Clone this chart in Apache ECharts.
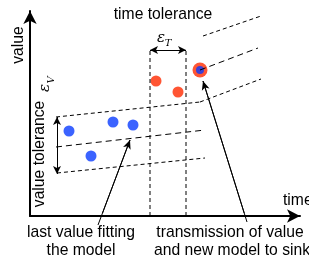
<!DOCTYPE html>
<html>
<head>
<meta charset="utf-8">
<script src="https://cdn.jsdelivr.net/npm/echarts@6/dist/echarts.min.js"></script>
<style>
html, body { margin: 0; padding: 0; background: #fff; }
#chart { width: 309px; height: 265px; }
</style>
</head>
<body>
<div id="chart"></div>
<script>
// samples that fit the old model
const blueTimes = [3.9, 6.1, 8.3, 10.3]
const blueValues = [8.5, 6.0, 9.4, 9.1]
// samples outside the value tolerance
const redTimes = [12.6, 14.8]
const redValues = [13.5, 12.4]
// sample sent to the sink
const sentTimes = [17.0]
const sentValues = [14.6]

// model lines, [time, value]
const oldModel = [[2.6, 6.9], [17.5, 8.6]]
const oldUpper = [[2.6, 9.9], [17.0, 11.4]]
const oldLower = [[2.7, 4.3], [17.5, 5.8]]
const newModel = [[17.0, 14.6], [22.8, 16.8]]
const newUpper = [[17.3, 18.0], [23.1, 20.0]]
const newLower = [[17.0, 11.4], [23.1, 13.7]]

// tolerance markers
const timeTolerance = [12.0, 15.6]
const timeTolTop = 16.6
const valueTolTime = 2.7
const valueTolerance = [9.9, 4.2]

// pointer arrows, [from, to]
const lastFitArrow = [[6.8, -0.9], [10.0, 7.6]]
const sentArrow = [[21.7, -0.6], [17.3, 13.5]]

const FONT = 'Liberation Sans'
const FS = 15.7
const blue = '#0a3cff'
const red = '#ff2a00'

const zip = (xs, ys) => xs.map((x, i) => [x, ys[i]])

// point on a pointer where it crosses value v (markLine drops points below the axis)
const cross = (arr, v) => {
    const [a, b] = arr
    const k = (v - a[1]) / (b[1] - a[1])
    return [a[0] + k * (b[0] - a[0]), v]
}

const dashed = (data, dash) => ({
    type: 'line',
    data: data,
    symbol: 'none',
    clip: false,
    silent: true,
    lineStyle: { color: '#000', width: 1, type: dash }
})

const shaft = (arr) => ({
    type: 'line',
    data: arr,
    symbol: 'none',
    clip: false,
    silent: true,
    lineStyle: { color: '#000', width: 1 }
})

const chart = echarts.init(document.getElementById('chart'))

const option = {
    animation: false,
    grid: { left: 30, right: 9, top: 11, bottom: 49 },
    xAxis: {
        type: 'value', min: 0, max: 27,
        axisLine: {
            lineStyle: { color: '#000', width: 2 },
            symbol: ['none', 'arrow'], symbolSize: [10, 13]
        },
        axisTick: { show: false }, axisLabel: { show: false }, splitLine: { show: false }
    },
    yAxis: {
        type: 'value', min: 0, max: 20.5,
        axisLine: {
            show: true,
            lineStyle: { color: '#000', width: 2 },
            symbol: ['none', 'arrow'], symbolSize: [10, 13]
        },
        axisTick: { show: false }, axisLabel: { show: false }, splitLine: { show: false }
    },
    series: [
        dashed(oldUpper, [4, 3]),
        dashed(oldModel, [6, 4]),
        dashed(oldLower, [4, 3]),
        dashed(newUpper, [4, 3]),
        dashed(newModel, [6, 4]),
        dashed(newLower, [4, 3]),
        dashed([[timeTolerance[0], 0], [timeTolerance[0], timeTolTop]], [4, 3]),
        dashed([[timeTolerance[1], 0], [timeTolerance[1], timeTolTop]], [4, 3]),
        shaft(lastFitArrow),
        shaft(sentArrow),
        {
            type: 'scatter', data: zip(blueTimes, blueValues),
            symbolSize: 11, itemStyle: { color: blue }, silent: true
        },
        {
            type: 'scatter', data: zip(redTimes, redValues),
            symbolSize: 11, itemStyle: { color: red }, silent: true
        },
        {
            type: 'scatter', data: zip(sentTimes, sentValues),
            symbolSize: 15, itemStyle: { color: red }, silent: true
        },
        {
            type: 'scatter', data: zip(sentTimes, sentValues),
            symbolSize: 8, itemStyle: { color: blue }, silent: true
        },
        // pointer arrow heads
        {
            type: 'line', data: [],
            markLine: {
                silent: true, animation: false,
                symbol: ['none', 'arrow'], symbolSize: [6, 9],
                label: { show: false },
                lineStyle: { color: '#000', width: 1, type: 'solid' },
                data: [
                    [{ coord: cross(lastFitArrow, 0.3) }, { coord: lastFitArrow[1] }],
                    [{ coord: cross(sentArrow, 0.3) }, { coord: sentArrow[1] }]
                ]
            }
        },
        // tolerance double arrows
        {
            type: 'line', data: [],
            markLine: {
                silent: true, animation: false,
                symbol: ['arrow', 'arrow'], symbolSize: [6, 8],
                label: { show: false },
                lineStyle: { color: '#000', width: 1, type: 'solid' },
                data: [
                    [{ coord: [timeTolerance[0], timeTolTop] }, { coord: [timeTolerance[1], timeTolTop] }],
                    [{ coord: [valueTolTime, valueTolerance[0]] }, { coord: [valueTolTime, valueTolerance[1]] }]
                ]
            }
        }
    ],
    graphic: [
        { type: 'text', x: 19, y: 45, rotation: Math.PI / 2,
          style: { text: 'value', font: FS + 'px ' + FONT, fill: '#000', align: 'center', verticalAlign: 'middle' } },
        { type: 'text', x: 40, y: 154, rotation: Math.PI / 2,
          style: { text: 'value tolerance', font: FS + 'px ' + FONT, fill: '#000', align: 'center', verticalAlign: 'middle' } },
        { type: 'text', x: 45, y: 88, rotation: Math.PI / 2,
          style: { text: 'ε', font: 'italic 15px DejaVu Serif', fill: '#000', align: 'center', verticalAlign: 'middle' } },
        { type: 'text', x: 51, y: 80, rotation: Math.PI / 2,
          style: { text: 'V', font: 'italic 10px DejaVu Serif', fill: '#000', align: 'center', verticalAlign: 'middle' } },
        { type: 'text', x: 163, y: 15,
          style: { text: 'time tolerance', font: FS + 'px ' + FONT, fill: '#000', align: 'center', verticalAlign: 'middle' } },
        { type: 'text', x: 161, y: 38,
          style: { text: 'ε', font: 'italic 15px DejaVu Serif', fill: '#000', align: 'center', verticalAlign: 'middle' } },
        { type: 'text', x: 168, y: 43,
          style: { text: 'T', font: 'italic 10px DejaVu Serif', fill: '#000', align: 'center', verticalAlign: 'middle' } },
        { type: 'text', x: 283, y: 201,
          style: { text: 'time', font: FS + 'px ' + FONT, fill: '#000', align: 'left', verticalAlign: 'middle' } },
        { type: 'text', x: 81, y: 233,
          style: { text: 'last value fitting', font: FS + 'px ' + FONT, fill: '#000', align: 'center', verticalAlign: 'middle' } },
        { type: 'text', x: 81, y: 251,
          style: { text: 'the model', font: FS + 'px ' + FONT, fill: '#000', align: 'center', verticalAlign: 'middle' } },
        { type: 'text', x: 230, y: 233,
          style: { text: 'transmission of value', font: FS + 'px ' + FONT, fill: '#000', align: 'center', verticalAlign: 'middle' } },
        { type: 'text', x: 232, y: 251,
          style: { text: 'and new model to sink', font: FS + 'px ' + FONT, fill: '#000', align: 'center', verticalAlign: 'middle' } }
    ]
}

chart.setOption(option)
</script>
</body>
</html>
